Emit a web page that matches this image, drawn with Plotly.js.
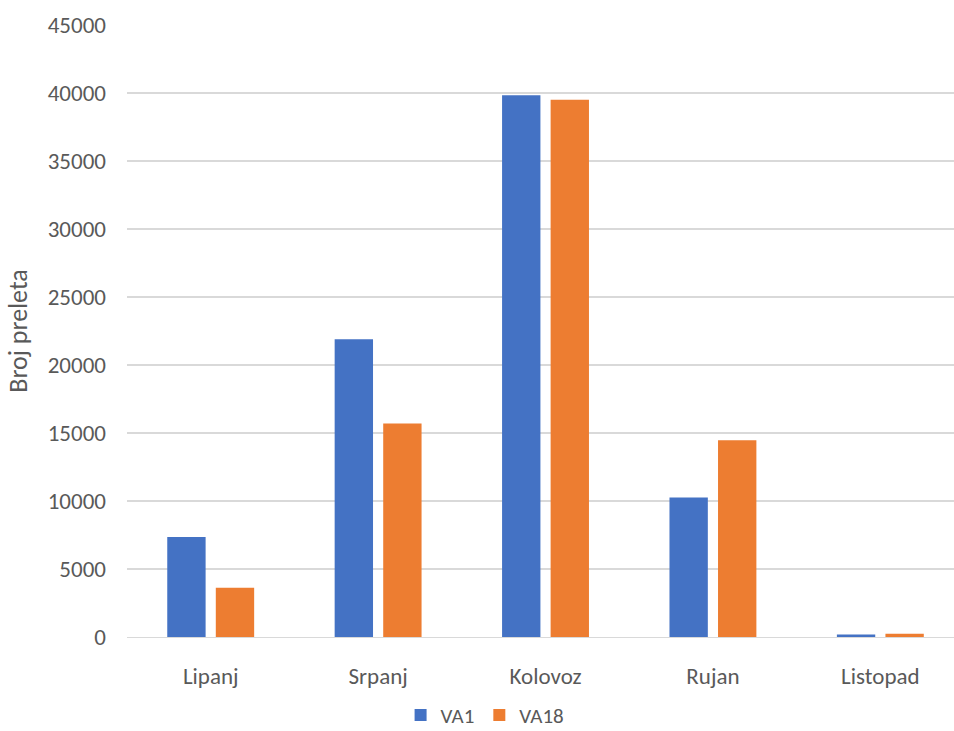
<!DOCTYPE html>
<html>
<head>
<meta charset="utf-8">
<script src="https://cdn.plot.ly/plotly-3.0.1.min.js"></script>
<style>
  html, body { margin: 0; padding: 0; background: #ffffff; }
  #chart { width: 954px; height: 731px; }
</style>
</head>
<body>
<div id="chart"></div>
<script>
// Monthly number of passes per site
const months = ["Lipanj", "Srpanj", "Kolovoz", "Rujan", "Listopad"];
const va1 = [7360, 21890, 39840, 10250, 190];
const va18 = [3620, 15690, 39500, 14470, 240];
const yTicks = [0, 5000, 10000, 15000, 20000, 25000, 30000, 35000, 40000, 45000];

const textColor = "#595959";
const fontFamily = "Carlito, Calibri, 'Open Sans', sans-serif";

const traces = [
  { type: "bar", name: "VA1", x: months, y: va1, marker: { color: "#4472C4" } },
  { type: "bar", name: "VA18", x: months, y: va18, marker: { color: "#ED7D31" } }
];

const layout = {
  width: 954,
  height: 731,
  margin: { l: 127, r: 0, t: 25, b: 93.5, autoexpand: false },
  paper_bgcolor: "#ffffff",
  plot_bgcolor: "#ffffff",
  font: { family: fontFamily, color: textColor, size: 22 },
  barmode: "group",
  bargap: 0.42,
  bargroupgap: 0.21,
  showlegend: true,
  legend: {
    orientation: "h",
    x: 0.433, xanchor: "center",
    y: -0.128, yanchor: "middle",
    font: { size: 21, color: textColor },
    itemwidth: 30,
    traceorder: "normal"
  },
  xaxis: {
    type: "category",
    range: [-0.5, 4.44],
    showgrid: false,
    showline: true,
    linecolor: "#D9D9D9",
    linewidth: 1,
    ticks: "",
    ticklabelstandoff: 18,
    tickfont: { size: 23, color: textColor }
  },
  yaxis: {
    range: [0, 45000],
    tickvals: yTicks,
    ticktext: yTicks.map(String),
    showgrid: true,
    gridcolor: "#D9D9D9",
    gridwidth: 1.3,
    zeroline: false,
    showline: false,
    ticks: "",
    ticklabelstandoff: 20,
    tickfont: { size: 23, color: textColor },
    title: { text: "Broj preleta", font: { size: 26, color: textColor }, standoff: 12 }
  }
};

Plotly.newPlot("chart", traces, layout, { displayModeBar: false, staticPlot: true });
</script>
</body>
</html>
